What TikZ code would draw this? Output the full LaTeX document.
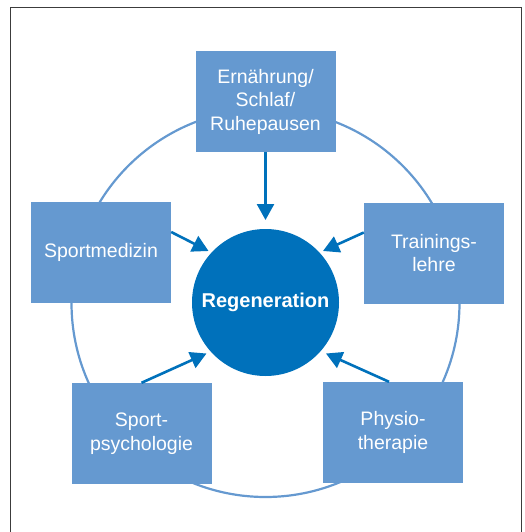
\documentclass[tikz,border=0pt]{standalone}
\usepackage{fontspec}
\setmainfont{Liberation Sans}
\usetikzlibrary{arrows.meta,calc}
\definecolor{boxblue}{RGB}{101,153,208}
\definecolor{coreblue}{RGB}{0,113,187}
\definecolor{framegray}{RGB}{60,60,60}
\begin{document}
\begin{tikzpicture}[x=1pt,y=-1pt,
  areabox/.style={fill=boxblue, text=white, minimum width=140pt, minimum height=101pt,
    inner sep=0pt, align=center, font=\fontsize{19.5}{23.5}\selectfont},
  feed/.style={draw=coreblue, line width=2.6pt, -{Triangle[length=16pt,width=17pt]}},
  ringline/.style={draw=boxblue, line width=2.2pt}]
\useasboundingbox (0,0) rectangle (524,532);

% outer frame, open at the bottom
\draw[framegray, line width=1.2pt] (10.5,532) -- (10.5,7.5) -- (521.5,7.5) -- (521.5,532);

% ring linking the five areas
\coordinate (hub) at (265.5,303);
\draw[ringline] (hub) circle[radius=194];

% arrow tips near the central circle
\coordinate (tipT)  at (265.5,220);
\coordinate (tipL)  at (208.5,251);
\coordinate (tipR)  at (323,251);
\coordinate (tipBL) at (206.5,353.5);
\coordinate (tipBR) at (326,353.5);

% central circle
\node[circle, fill=coreblue, minimum size=147pt, inner sep=0pt, text=white,
      font=\bfseries\fontsize{20}{24}\selectfont] (core) at (265.5,302.5) {Regeneration};

% surrounding areas
\node[areabox] (ern)   at (265.5,101.5) {Ernährung/\\Schlaf/\\Ruhepausen};
\node[areabox] (smed)  at (101,252.5)   {Sportmedizin};
\node[areabox] (train) at (434,253)     {Trainings-\\lehre};
\node[areabox] (psy)   at (141.5,433.5) {Sport-\\psychologie};
\node[areabox] (phys)  at (393,432.5)   {Physio-\\therapie};

% arrows into the centre
\draw[feed] (ern.south) -- (tipT);
\draw[feed] ([yshift=20.5pt]smed.east) -- (tipL);
\draw[feed] ([yshift=20.5pt]train.west) -- (tipR);
\draw[feed] (psy.north) -- (tipBL);
\draw[feed] ([xshift=-4pt]phys.north) -- (tipBR);
\end{tikzpicture}
\end{document}
